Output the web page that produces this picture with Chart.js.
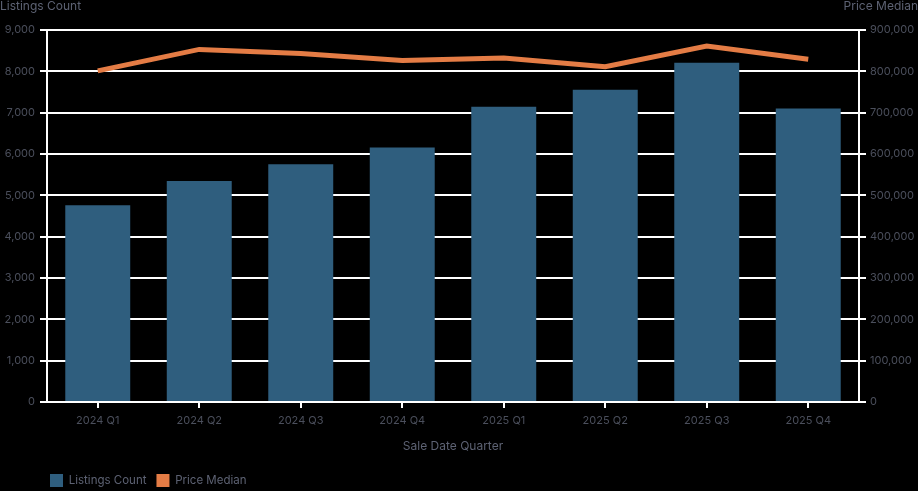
<!DOCTYPE html>
<html>
<head>
<meta charset="utf-8">
<script src="https://cdn.jsdelivr.net/npm/chart.js@4/dist/chart.umd.min.js"></script>
<style>
  html, body { margin: 0; padding: 0; background: #000; }
  #wrap { width: 918px; height: 491px; }
</style>
</head>
<body>
<div id="wrap"><canvas id="myChart" width="918" height="491"></canvas></div>
<script>
// data
var quarters = ["2024 Q1", "2024 Q2", "2024 Q3", "2024 Q4", "2025 Q1", "2025 Q2", "2025 Q3", "2025 Q4"];
var listingsCount = [4760, 5345, 5755, 6160, 7145, 7555, 8210, 7100];
var priceMedian = [801000, 853000, 843000, 826000, 832000, 811000, 861000, 829000];
var countTicks = [0, 1000, 2000, 3000, 4000, 5000, 6000, 7000, 8000, 9000];
var priceTicks = [0, 100000, 200000, 300000, 400000, 500000, 600000, 700000, 800000, 900000];

var tickColor = "#4b4f5c";
var titleColor = "#5d6273";
var fmt = function (v) { return Number(v).toLocaleString("en-US"); };

// axis titles sit above the axes, horizontal
var topTitles = {
  id: "topTitles",
  afterLayout: function (chart) {
    // push the legend in under the plot, like the original
    if (chart.legend) chart.legend.left += 40;
  },
  afterDraw: function (chart) {
    var c = chart.ctx;
    c.save();
    c.font = "12px Inter";
    c.fillStyle = titleColor;
    c.textBaseline = "middle";
    c.textAlign = "left";
    c.fillText("Listings Count", 0, 6);
    c.textAlign = "right";
    c.fillText("Price Median", 918, 6);
    c.restore();
  }
};

var ctx = document.getElementById("myChart");
var chart = new Chart(ctx, {
  data: {
    labels: quarters,
    datasets: [
      {
        type: "line",
        label: "Price Median",
        data: priceMedian,
        yAxisID: "y1",
        borderColor: "#e47c45",
        backgroundColor: "#e47c45",
        borderWidth: 5,
        pointRadius: 0,
        tension: 0,
        order: 0
      },
      {
        type: "bar",
        label: "Listings Count",
        data: listingsCount,
        yAxisID: "y",
        backgroundColor: "#2f5e7e",
        categoryPercentage: 1,
        barPercentage: 0.64,
        order: 1
      }
    ]
  },
  options: {
    responsive: false,
    animation: false,
    layout: { padding: { top: 30, left: 0, right: 0, bottom: -6 } },
    font: { family: "Inter" },
    plugins: {
      legend: {
        position: "bottom",
        align: "start",
        reverse: true,
        labels: {
          color: titleColor,
          font: { family: "Inter", size: 11.5 },
          boxWidth: 13,
          boxHeight: 13,
          padding: 10,
          generateLabels: function (ch) {
            var items = Chart.defaults.plugins.legend.labels.generateLabels(ch);
            items.forEach(function (it) {
              var ds = ch.data.datasets[it.datasetIndex];
              it.fillStyle = ds.backgroundColor;
              it.lineWidth = 0;
              it.strokeStyle = "transparent";
            });
            return items;
          }
        }
      },
      tooltip: { enabled: false }
    },
    scales: {
      x: {
        grid: { display: true, drawOnChartArea: false, offset: false, color: "#ffffff", lineWidth: 2, tickLength: 6 },
        border: { color: "#ffffff", width: 2 },
        ticks: { color: tickColor, font: { family: "Inter", size: 11 }, padding: 6 },
        title: { display: true, text: "Sale Date Quarter", color: titleColor, font: { family: "Inter", size: 12 }, padding: { top: 7, bottom: 10 } },
        afterFit: function (s) { s.height = 62; }
      },
      y: {
        position: "left",
        min: 0,
        max: 9000,
        afterBuildTicks: function (s) { s.ticks = countTicks.map(function (v) { return { value: v }; }); },
        grid: { color: "#ffffff", lineWidth: 2, tickLength: 7 },
        border: { color: "#ffffff", width: 2 },
        ticks: { color: tickColor, font: { family: "Inter", size: 11 }, padding: 5, callback: fmt },
        afterFit: function (s) { s.width = 47; }
      },
      y1: {
        position: "right",
        min: 0,
        max: 900000,
        afterBuildTicks: function (s) { s.ticks = priceTicks.map(function (v) { return { value: v }; }); },
        grid: { drawOnChartArea: false, color: "#ffffff", lineWidth: 2, tickLength: 7 },
        border: { color: "#ffffff", width: 2 },
        ticks: { color: tickColor, font: { family: "Inter", size: 11 }, padding: 4, callback: fmt },
        afterFit: function (s) { s.width = 59; }
      }
    }
  },
  plugins: [topTitles]
});
</script>
</body>
</html>
